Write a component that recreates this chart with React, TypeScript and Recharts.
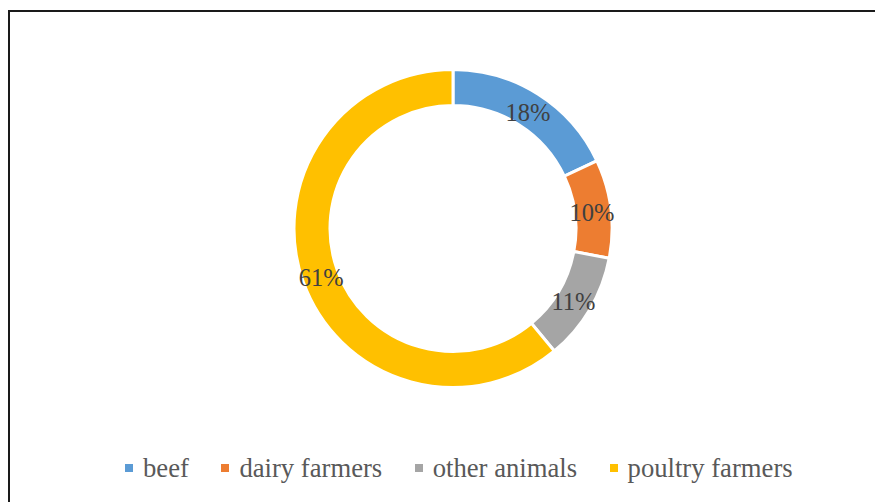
import React from "react";
import { PieChart, Pie, Cell, Legend } from "recharts";

const categories = ["beef", "dairy farmers", "other animals", "poultry farmers"];
const shares = [18, 10, 11, 61];
const colors = ["#5B9BD5", "#ED7D31", "#A5A5A5", "#FFC000"];

const data = categories.map((name, i) => ({ name, value: shares[i] }));

const RAD = Math.PI / 180;

const renderLabel = (props: any) => {
  const { cx, cy, midAngle, innerRadius, outerRadius, value } = props;
  const r = (innerRadius + outerRadius) / 2 - 1;
  const x = cx + r * Math.cos(-midAngle * RAD);
  const y = cy + r * Math.sin(-midAngle * RAD) + 2;
  return (
    <text
      x={x}
      y={y}
      textAnchor="middle"
      dominantBaseline="central"
      fill="#404040"
      fontSize={24.5}
      fontFamily="'Liberation Serif', 'Times New Roman', serif"
    >
      {value}%
    </text>
  );
};

const renderLegend = (props: any) => {
  const { payload } = props;
  return (
    <div
      style={{
        display: "flex",
        alignItems: "center",
        fontFamily: "'Liberation Serif', 'Times New Roman', serif",
        fontSize: 26.67,
        color: "#595959",
        lineHeight: "30px",
        whiteSpace: "nowrap",
      }}
    >
      {(payload || []).map((p: any, i: number) => (
        <div
          key={i}
          style={{ display: "flex", alignItems: "center", marginRight: 32.5 }}
        >
          <span
            style={{
              display: "inline-block",
              width: 8,
              height: 8,
              background: p.color,
              marginRight: 10,
            }}
          />
          <span>{p.value}</span>
        </div>
      ))}
    </div>
  );
};

export default function App() {
  return (
    <div style={{ width: 875, height: 494, overflow: "hidden" }}>
      <div
        style={{
          marginTop: 2,
          borderLeft: "2px solid #1a1a1a",
          borderTop: "2px solid #1a1a1a",
          width: 900,
          height: 500,
          background: "#fff",
        }}
      >
        <PieChart width={873} height={490}>
          <Pie
            data={data}
            dataKey="value"
            nameKey="name"
            cx={438}
            cy={211.5}
            innerRadius={123}
            outerRadius={159}
            startAngle={90}
            endAngle={-270}
            stroke="#ffffff"
            strokeWidth={3}
            label={renderLabel}
            labelLine={false}
            isAnimationActive={false}
          >
            {data.map((d, i) => (
              <Cell key={d.name} fill={colors[i]} />
            ))}
          </Pie>
          <Legend
            content={renderLegend}
            wrapperStyle={{ position: "absolute", left: 115, top: 441, width: "auto" }}
          />
        </PieChart>
      </div>
    </div>
  );
}
